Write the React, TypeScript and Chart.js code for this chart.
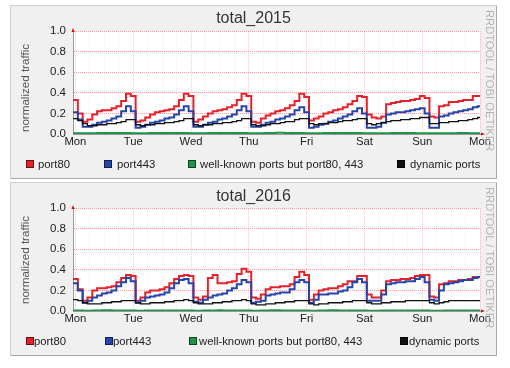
import React, { useEffect, useRef } from 'react';
import { Chart, registerables } from 'chart.js';

Chart.register(...registerables);

// ---------------- data ----------------
const DAY_LABELS = ['Mon', 'Tue', 'Wed', 'Thu', 'Fri', 'Sat', 'Sun', 'Mon'];
const Y_LABELS = ['0.0', '0.2', '0.4', '0.6', '0.8', '1.0'];
const SERIES_NAMES = ['port80', 'port443', 'well-known ports but port80, 443', 'dynamic ports'];
const TITLES = ['total_2015', 'total_2016'];
const Y_AXIS_TITLE = 'normalized traffic';
const WATERMARK = 'RRDTOOL / TOBI OETIKER';

// time axis in hours from Monday 00:00; one sample every 2 hours
const FIRST_HOUR = -1;
const STEP_HOURS = 2;
const LAST_HOUR = 168;
const GRID_HOURS = 6;
const DAY_HOURS = 24;
const Y_GRID_STEP = 0.1;

const port80_2015 = [
  0.33, 0.20, 0.12, 0.14, 0.19, 0.22, 0.23, 0.23, 0.25, 0.27, 0.32, 0.39, 0.37,
  0.12, 0.13, 0.16, 0.19, 0.21, 0.22, 0.23, 0.24, 0.27, 0.33, 0.39, 0.37,
  0.12, 0.14, 0.17, 0.20, 0.22, 0.23, 0.24, 0.26, 0.28, 0.33, 0.39, 0.37,
  0.12, 0.11, 0.15, 0.18, 0.20, 0.22, 0.23, 0.25, 0.28, 0.32, 0.39, 0.36,
  0.13, 0.15, 0.17, 0.20, 0.21, 0.23, 0.24, 0.26, 0.29, 0.32, 0.37, 0.36,
  0.19, 0.16, 0.15, 0.17, 0.29, 0.30, 0.31, 0.32, 0.32, 0.33, 0.34, 0.37, 0.35,
  0.17, 0.16, 0.27, 0.28, 0.31, 0.31, 0.32, 0.33, 0.33, 0.37, 0.37,
];
const port443_2015 = [
  0.21, 0.14, 0.07, 0.07, 0.09, 0.11, 0.12, 0.13, 0.15, 0.17, 0.22, 0.27, 0.22,
  0.06, 0.07, 0.09, 0.11, 0.12, 0.13, 0.15, 0.16, 0.19, 0.23, 0.27, 0.22,
  0.07, 0.07, 0.09, 0.11, 0.12, 0.14, 0.15, 0.17, 0.19, 0.23, 0.27, 0.22,
  0.07, 0.07, 0.09, 0.11, 0.12, 0.14, 0.15, 0.17, 0.19, 0.23, 0.26, 0.21,
  0.06, 0.07, 0.09, 0.10, 0.12, 0.13, 0.15, 0.17, 0.19, 0.22, 0.25, 0.20,
  0.06, 0.06, 0.07, 0.11, 0.19, 0.20, 0.21, 0.21, 0.22, 0.23, 0.24, 0.25, 0.20,
  0.06, 0.06, 0.17, 0.18, 0.20, 0.21, 0.22, 0.23, 0.24, 0.26, 0.27,
];
const wellknown_2015 = [
  0.008, 0.008, 0.007, 0.007, 0.008, 0.009, 0.009, 0.009, 0.009, 0.009, 0.009, 0.009, 0.008,
  0.007, 0.007, 0.008, 0.009, 0.009, 0.010, 0.010, 0.010, 0.009, 0.009, 0.009, 0.008,
  0.007, 0.007, 0.008, 0.009, 0.010, 0.010, 0.010, 0.010, 0.009, 0.009, 0.009, 0.008,
  0.007, 0.007, 0.008, 0.009, 0.010, 0.011, 0.011, 0.010, 0.009, 0.009, 0.009, 0.008,
  0.007, 0.007, 0.008, 0.009, 0.010, 0.010, 0.010, 0.009, 0.009, 0.009, 0.009, 0.008,
  0.007, 0.007, 0.007, 0.008, 0.008, 0.009, 0.009, 0.009, 0.009, 0.009, 0.008, 0.008, 0.008,
  0.007, 0.007, 0.007, 0.008, 0.008, 0.008, 0.009, 0.009, 0.008, 0.008, 0.008,
];
const dynamic_2015 = [
  0.15, 0.13, 0.10, 0.08, 0.08, 0.09, 0.09, 0.10, 0.10, 0.11, 0.12, 0.14, 0.14,
  0.09, 0.08, 0.09, 0.09, 0.10, 0.10, 0.11, 0.11, 0.12, 0.13, 0.15, 0.15,
  0.09, 0.08, 0.09, 0.09, 0.10, 0.10, 0.11, 0.11, 0.12, 0.13, 0.15, 0.15,
  0.09, 0.08, 0.08, 0.09, 0.10, 0.10, 0.11, 0.12, 0.12, 0.14, 0.15, 0.15,
  0.10, 0.09, 0.10, 0.10, 0.11, 0.11, 0.12, 0.13, 0.13, 0.14, 0.15, 0.15,
  0.10, 0.09, 0.10, 0.11, 0.12, 0.13, 0.13, 0.14, 0.14, 0.15, 0.15, 0.16, 0.16,
  0.10, 0.10, 0.11, 0.11, 0.12, 0.12, 0.13, 0.13, 0.14, 0.15, 0.16,
];

const port80_2016 = [
  0.31, 0.21, 0.10, 0.13, 0.20, 0.22, 0.22, 0.23, 0.24, 0.28, 0.32, 0.35, 0.34,
  0.10, 0.13, 0.18, 0.20, 0.20, 0.21, 0.23, 0.27, 0.31, 0.34, 0.35, 0.34,
  0.13, 0.11, 0.14, 0.32, 0.35, 0.27, 0.27, 0.28, 0.29, 0.36, 0.41, 0.38,
  0.13, 0.12, 0.16, 0.21, 0.23, 0.23, 0.24, 0.24, 0.26, 0.33, 0.38, 0.35,
  0.11, 0.16, 0.20, 0.21, 0.22, 0.22, 0.24, 0.26, 0.29, 0.29, 0.34, 0.34,
  0.16, 0.13, 0.13, 0.20, 0.29, 0.30, 0.30, 0.31, 0.31, 0.32, 0.34, 0.35, 0.35,
  0.14, 0.13, 0.26, 0.27, 0.29, 0.29, 0.30, 0.30, 0.31, 0.33, 0.33,
];
const port443_2016 = [
  0.27, 0.20, 0.08, 0.10, 0.13, 0.15, 0.17, 0.18, 0.20, 0.24, 0.28, 0.32, 0.29,
  0.08, 0.10, 0.13, 0.14, 0.15, 0.16, 0.18, 0.22, 0.27, 0.30, 0.31, 0.27,
  0.09, 0.08, 0.11, 0.13, 0.15, 0.16, 0.17, 0.20, 0.22, 0.26, 0.30, 0.28,
  0.08, 0.09, 0.10, 0.15, 0.16, 0.17, 0.18, 0.18, 0.21, 0.28, 0.30, 0.28,
  0.08, 0.11, 0.16, 0.16, 0.17, 0.17, 0.19, 0.20, 0.23, 0.28, 0.31, 0.28,
  0.10, 0.10, 0.10, 0.16, 0.26, 0.27, 0.28, 0.28, 0.29, 0.29, 0.31, 0.33, 0.28,
  0.11, 0.10, 0.20, 0.26, 0.27, 0.28, 0.29, 0.30, 0.30, 0.32, 0.33,
];
const wellknown_2016 = [
  0.004, 0.004, 0.003, 0.003, 0.004, 0.006, 0.007, 0.007, 0.006, 0.005, 0.004, 0.004, 0.004,
  0.003, 0.003, 0.004, 0.005, 0.006, 0.006, 0.006, 0.005, 0.004, 0.004, 0.004, 0.004,
  0.003, 0.003, 0.004, 0.005, 0.006, 0.007, 0.006, 0.005, 0.004, 0.004, 0.004, 0.004,
  0.003, 0.003, 0.004, 0.005, 0.007, 0.007, 0.006, 0.005, 0.004, 0.004, 0.004, 0.004,
  0.003, 0.003, 0.004, 0.006, 0.007, 0.007, 0.006, 0.005, 0.004, 0.004, 0.004, 0.004,
  0.003, 0.003, 0.003, 0.004, 0.005, 0.006, 0.005, 0.004, 0.004, 0.004, 0.004, 0.004, 0.004,
  0.003, 0.003, 0.003, 0.004, 0.004, 0.004, 0.004, 0.004, 0.004, 0.004, 0.004,
];
const dynamic_2016 = [
  0.11, 0.10, 0.08, 0.07, 0.07, 0.07, 0.08, 0.08, 0.09, 0.09, 0.10, 0.10, 0.10,
  0.08, 0.07, 0.07, 0.08, 0.08, 0.08, 0.09, 0.09, 0.10, 0.10, 0.11, 0.10,
  0.08, 0.07, 0.07, 0.07, 0.08, 0.08, 0.09, 0.09, 0.10, 0.10, 0.11, 0.10,
  0.07, 0.06, 0.06, 0.07, 0.07, 0.08, 0.08, 0.09, 0.09, 0.10, 0.10, 0.10,
  0.07, 0.06, 0.07, 0.07, 0.08, 0.08, 0.08, 0.09, 0.09, 0.10, 0.10, 0.10,
  0.08, 0.07, 0.07, 0.08, 0.08, 0.09, 0.09, 0.09, 0.10, 0.10, 0.10, 0.10, 0.10,
  0.08, 0.07, 0.08, 0.09, 0.10, 0.10, 0.10, 0.10, 0.10, 0.10, 0.10,
];

// ---------------- styling / layout ----------------
const SERIES_COLORS = ['#e5222c', '#2445aa', '#1f9447', '#111111'];
const SERIES_WIDTHS = [2, 2, 2, 1.3];
const FONT = '"Liberation Sans", Arial, Helvetica, sans-serif';
const PANEL_LEFT = 10;
const PANEL_W = 487;
const PANEL_H = 174;

type PanelLayout = {
  top: number;
  titleY: number;
  yLabelY: number;
  legendY: number;
  legendBox: number[];
  legendText: number[];
};

const LAYOUT_2015: PanelLayout = {
  top: 5,
  titleY: 13,
  yLabelY: 83,
  legendY: 159,
  legendBox: [16, 94, 178, 387],
  legendText: [28, 107, 190, 400],
};
const LAYOUT_2016: PanelLayout = {
  top: 182,
  titleY: 14,
  yLabelY: 78,
  legendY: 159,
  legendBox: [16, 95, 179, 390],
  legendText: [24, 103, 189, 399],
};

const bgPlugin = {
  id: 'plotBg',
  beforeDraw(chart: any) {
    const { ctx, chartArea } = chart;
    ctx.save();
    ctx.fillStyle = '#ffffff';
    ctx.fillRect(chartArea.left, chartArea.top, chartArea.right - chartArea.left, chartArea.bottom - chartArea.top);
    ctx.restore();
  },
};

const arrowPlugin = {
  id: 'arrows',
  afterDraw(chart: any) {
    const { ctx, chartArea } = chart;
    const { left, top, right, bottom } = chartArea;
    ctx.save();
    ctx.fillStyle = '#e00000';
    ctx.beginPath();
    ctx.moveTo(left - 1.5, top + 1);
    ctx.lineTo(left + 1.5, top + 1);
    ctx.lineTo(left, top - 3);
    ctx.closePath();
    ctx.fill();
    ctx.beginPath();
    ctx.moveTo(right + 1, bottom - 1.5);
    ctx.lineTo(right + 1, bottom + 1.5);
    ctx.lineTo(right + 5, bottom);
    ctx.closePath();
    ctx.fill();
    ctx.restore();
  },
};

function toPoints(values: number[]) {
  const pts = values.map((v, i) => ({ x: FIRST_HOUR + i * STEP_HOURS, y: v }));
  pts.push({ x: LAST_HOUR, y: values[values.length - 1] });
  return pts;
}

function Panel({ title, series, layout }: { title: string; series: number[][]; layout: PanelLayout }) {
  const ref = useRef<HTMLCanvasElement | null>(null);

  useEffect(() => {
    const canvas = ref.current;
    if (!canvas) return;
    const xTicks: number[] = [];
    for (let h = 0; h <= LAST_HOUR; h += GRID_HOURS) xTicks.push(h);
    const yTickCount = Math.round(1 / Y_GRID_STEP) + 1;

    const datasets = series.map((vals, i) => ({
      label: SERIES_NAMES[i],
      data: toPoints(vals),
      borderColor: SERIES_COLORS[i],
      backgroundColor: SERIES_COLORS[i],
      borderWidth: SERIES_WIDTHS[i],
      stepped: 'before' as const,
      pointRadius: 0,
      fill: false,
      order: series.length - i,
    }));

    const chart = new Chart(canvas, {
      type: 'line',
      data: { datasets },
      options: {
        animation: false,
        responsive: false,
        devicePixelRatio: 1,
        layout: { padding: { left: 0, top: 26, right: 17, bottom: 0 } },
        plugins: {
          legend: { display: false },
          title: { display: false },
          tooltip: { enabled: false },
        },
        elements: { line: { tension: 0 }, point: { radius: 0 } },
        scales: {
          x: {
            type: 'linear',
            min: FIRST_HOUR,
            max: LAST_HOUR,
            afterBuildTicks: (s: any) => {
              s.ticks = xTicks.map((v) => ({ value: v }));
            },
            afterFit: (s: any) => {
              s.height = 45;
            },
            ticks: {
              autoSkip: false,
              maxRotation: 0,
              minRotation: 0,
              padding: 1,
              color: '#222',
              font: { family: FONT, size: 11.3 },
              callback: (v: any) => {
                const n = Math.round(Number(v));
                return n % DAY_HOURS === 0 ? DAY_LABELS[n / DAY_HOURS] : '';
              },
            },
            grid: {
              drawTicks: false,
              lineWidth: 1,
              color: (ctx: any) =>
                ctx.tick && Math.round(ctx.tick.value) % DAY_HOURS === 0
                  ? 'rgba(240,110,110,0.38)'
                  : 'rgba(245,150,150,0.22)',
            },
            border: { display: true, color: '#9a9a9a', dash: [1, 1] },
          },
          y: {
            type: 'linear',
            min: 0,
            max: 1,
            afterBuildTicks: (s: any) => {
              s.ticks = Array.from({ length: yTickCount }, (_, i) => ({ value: i * Y_GRID_STEP }));
            },
            afterFit: (s: any) => {
              s.width = 63;
            },
            ticks: {
              padding: 7,
              color: '#222',
              font: { family: FONT, size: 11.5 },
              callback: (_v: any, i: number) => (i % 2 === 0 ? Y_LABELS[i / 2] : ''),
            },
            grid: {
              drawTicks: false,
              lineWidth: 1,
              color: (ctx: any) =>
                ctx.index % 2 === 0 ? 'rgba(240,90,90,0.55)' : 'rgba(245,150,150,0.25)',
            },
            border: { display: true, color: '#9a9a9a', dash: [1, 1] },
          },
        },
      },
      plugins: [bgPlugin, arrowPlugin],
    } as any);

    return () => chart.destroy();
  }, [series]);

  return (
    <div
      style={{
        position: 'absolute',
        left: PANEL_LEFT,
        top: layout.top,
        width: PANEL_W,
        height: PANEL_H,
        background: '#f0f0f0',
        boxShadow: 'inset 1px 1px 0 #cfcfcf, inset -1px -1px 0 #a8a8a8',
        fontFamily: FONT,
      }}
    >
      <canvas
        ref={ref}
        width={PANEL_W}
        height={PANEL_H}
        style={{ position: 'absolute', left: 0, top: 0, width: PANEL_W, height: PANEL_H, display: 'block' }}
      />
      <div
        style={{
          position: 'absolute',
          left: 0,
          width: PANEL_W,
          top: layout.titleY - 10,
          height: 20,
          lineHeight: '20px',
          textAlign: 'center',
          fontSize: 16,
          color: '#333',
        }}
      >
        {title}
      </div>
      <div
        style={{
          position: 'absolute',
          left: 14,
          top: layout.yLabelY,
          transform: 'translate(-50%, -50%) rotate(-90deg)',
          whiteSpace: 'nowrap',
          fontSize: 11.6,
          lineHeight: '13px',
          color: '#555',
        }}
      >
        {Y_AXIS_TITLE}
      </div>
      <div
        style={{
          position: 'absolute',
          left: 473,
          top: 5,
          writingMode: 'vertical-rl',
          whiteSpace: 'nowrap',
          fontSize: 11.2,
          lineHeight: '13px',
          color: '#b4b4b4',
        }}
      >
        {WATERMARK}
      </div>
      {SERIES_NAMES.map((name, i) => (
        <React.Fragment key={name}>
          <div
            style={{
              position: 'absolute',
              left: layout.legendBox[i],
              top: layout.legendY - 4,
              width: 8,
              height: 8,
              boxSizing: 'border-box',
              background: SERIES_COLORS[i],
              border: '1px solid rgba(0,0,0,0.55)',
            }}
          />
          <div
            style={{
              position: 'absolute',
              left: layout.legendText[i],
              top: layout.legendY - 7,
              height: 14,
              lineHeight: '14px',
              fontSize: 11.3,
              color: '#222',
              whiteSpace: 'nowrap',
            }}
          >
            {name}
          </div>
        </React.Fragment>
      ))}
    </div>
  );
}

const SERIES_2015 = [port80_2015, port443_2015, wellknown_2015, dynamic_2015];
const SERIES_2016 = [port80_2016, port443_2016, wellknown_2016, dynamic_2016];

export default function App() {
  return (
    <div style={{ position: 'absolute', left: 0, top: 0, width: 510, height: 368, background: '#fff', fontFamily: FONT }}>
      <Panel title={TITLES[0]} series={SERIES_2015} layout={LAYOUT_2015} />
      <Panel title={TITLES[1]} series={SERIES_2016} layout={LAYOUT_2016} />
    </div>
  );
}
